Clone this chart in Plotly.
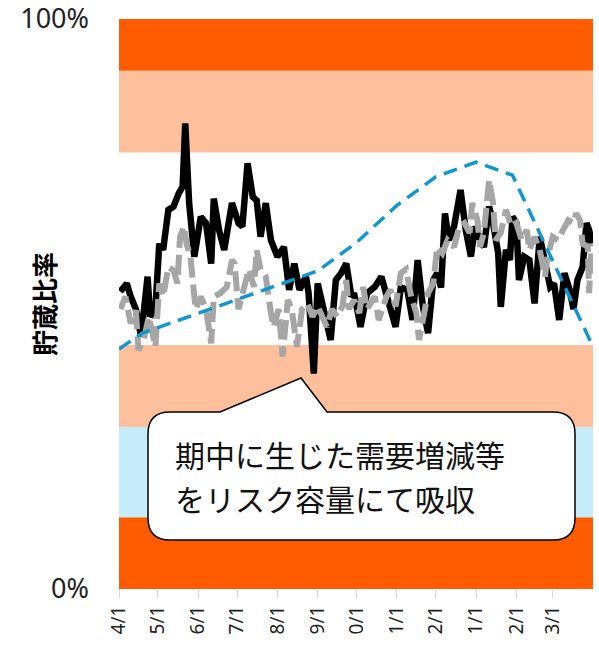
import pandas as pd
import plotly.graph_objects as go

# Fiscal year axis: April 1 to March 31
START = pd.Timestamp("2022-04-01")
END = pd.Timestamp("2023-04-01")

month_ticks = pd.date_range("2022-04-01", "2023-03-01", freq="MS")
month_labels = ["4/1", "5/1", "6/1", "7/1", "8/1", "9/1",
                "0/1", "1/1", "2/1", "1/1", "2/1", "3/1"]

# Storage-ratio zones (%), bottom to top
band_edges = [0, 12.6, 28.4, 42.8, 76.6, 90.9, 100]
band_colors = ["#FF5B00", "#C6ECFC", "#FDBF9C", None, "#FDBF9C", "#FF5B00"]

# Actual storage ratio (days since 4/1, %)
actual_days = [1, 6, 9, 13, 17, 22, 24, 28, 31, 34, 38, 42, 46, 49, 51, 54, 58,
               63, 67, 71, 73, 77, 81, 85, 87, 92, 95, 99, 103, 106, 109, 113,
               117, 122, 127, 131, 135, 139, 144, 146, 150, 153, 158, 163, 167,
               171, 175, 179, 181, 186, 191, 197, 202, 206, 209, 213, 217, 222,
               226, 230, 234, 238, 242, 245, 248, 251, 254, 258, 263, 267, 271,
               274, 278, 281, 285, 288, 292, 294, 298, 301, 303, 306, 308, 312,
               316, 320, 324, 328, 332, 335, 339, 343, 347, 350, 353, 357, 360,
               362, 364]
actual_vals = [52.2, 53.6, 51.3, 49.1, 44.3, 54.8, 47.8, 49.1, 60.6, 59.5, 66.5,
               67.1, 69.4, 70.6, 81.7, 67.7, 58.3, 65.3, 64.2, 57.1, 68.5, 63.0,
               59.5, 64.2, 67.7, 64.2, 63.6, 74.7, 68.8, 68.2, 61.8, 67.7, 61.2,
               58.3, 60.0, 52.5, 57.1, 52.5, 54.8, 51.9, 37.8, 53.6, 49.1, 43.7,
               54.2, 55.4, 57.1, 51.3, 51.9, 46.0, 51.9, 53.0, 54.8, 51.3, 49.5,
               46.0, 52.9, 52.5, 47.2, 57.7, 49.5, 44.9, 54.2, 55.4, 52.9, 65.9,
               61.2, 63.6, 70.0, 63.0, 58.3, 63.6, 61.2, 60.0, 67.1, 64.2, 58.9,
               49.5, 59.5, 57.7, 65.3, 64.2, 54.2, 58.3, 57.7, 50.1, 61.8, 57.7,
               53.0, 53.6, 47.2, 55.4, 52.5, 49.1, 54.2, 56.5, 64.2, 63.0, 60.6]

# Previous-year storage ratio (days since 4/1, %)
prev_days = [1, 5, 9, 13, 15, 19, 23, 28, 31, 34, 38, 42, 45, 47, 50, 52, 55,
             59, 63, 67, 71, 73, 78, 83, 87, 89, 92, 96, 100, 104, 106, 109, 113,
             117, 119, 123, 126, 130, 133, 137, 141, 145, 149, 153, 157, 160,
             164, 168, 172, 175, 177, 181, 185, 188, 191, 197, 200, 206, 209,
             213, 217, 221, 225, 229, 231, 234, 238, 242, 245, 249, 253, 258,
             262, 266, 270, 272, 276, 278, 281, 285, 288, 290, 294, 298, 302,
             306, 310, 314, 316, 320, 324, 328, 330, 334, 338, 342, 346, 350,
             352, 355, 357, 361, 362, 364]
prev_vals = [49.1, 51.3, 46.6, 48.9, 41.9, 43.7, 47.8, 42.5, 53.6, 51.3, 56.5,
             55.9, 53.6, 61.8, 63.6, 60.6, 58.3, 49.1, 51.3, 49.1, 43.1, 51.3,
             51.9, 53.0, 57.7, 57.1, 49.1, 52.5, 56.1, 53.0, 59.5, 56.1, 54.8,
             48.4, 46.0, 49.1, 40.8, 50.7, 49.1, 42.5, 49.1, 50.1, 47.8, 49.6,
             47.2, 46.0, 49.1, 47.8, 49.6, 54.2, 49.1, 50.7, 48.4, 53.0, 49.1,
             51.3, 47.2, 51.3, 52.5, 49.6, 55.4, 56.1, 51.3, 48.4, 43.7, 47.8,
             51.9, 53.6, 60.0, 58.9, 61.2, 60.0, 63.6, 64.2, 62.5, 67.7, 64.7,
             60.0, 62.5, 71.8, 67.7, 61.2, 62.5, 66.5, 63.6, 64.2, 61.2, 63.0,
             59.5, 61.8, 59.5, 54.8, 58.3, 61.8, 61.2, 63.0, 64.7, 64.2, 65.9,
             64.7, 60.6, 60.0, 51.9, 60.6]

# Planned storage ratio (days since 4/1, %)
plan_days = [0, 18, 153, 183, 214, 244, 275, 303, 365]
plan_vals = [42.1, 44.9, 55.8, 60.8, 67.3, 72.3, 74.9, 72.6, 42.5]

# Callout text, one entry per line
callout_lines = ["期中に生じた需要増減等", "をリスク容量にて吸収"]


def to_dates(days):
    return [START + pd.Timedelta(days=d) for d in days]


W, H = 599, 646
L, R, T, B = 119, 6, 19, 57
PW, PH = W - L - R, H - T - B


def px(x, y):
    """Pixel position -> paper coordinates string."""
    return f"{(x - L) / PW:.5f},{(H - B - y) / PH:.5f}"


fig = go.Figure()

fig.add_trace(go.Scatter(
    x=to_dates(actual_days), y=actual_vals, mode="lines",
    line=dict(color="#000000", width=6.5), hoverinfo="skip", showlegend=False))
fig.add_trace(go.Scatter(
    x=to_dates(prev_days), y=prev_vals, mode="lines",
    line=dict(color="#A6A6A6", width=6, dash="20px,7px"),
    hoverinfo="skip", showlegend=False))
fig.add_trace(go.Scatter(
    x=to_dates(plan_days), y=plan_vals, mode="lines",
    line=dict(color="#1197CF", width=3.5, dash="14px,8px"),
    hoverinfo="skip", showlegend=False))

shapes = []
for lo, hi, col in zip(band_edges[:-1], band_edges[1:], band_colors):
    if col is None:
        continue
    shapes.append(dict(type="rect", xref="paper", yref="y", x0=0, x1=1,
                       y0=lo, y1=hi, fillcolor=col, line_width=0, layer="below"))

# Speech-bubble callout
bx0, bx1, by0, by1, r = 148, 575, 412, 540, 22
bubble = (
    f"M{px(bx0 + r, by0)} L{px(220, by0)} L{px(301, 378)} L{px(327, by0)} "
    f"L{px(bx1 - r, by0)} Q{px(bx1, by0)} {px(bx1, by0 + r)} "
    f"L{px(bx1, by1 - r)} Q{px(bx1, by1)} {px(bx1 - r, by1)} "
    f"L{px(bx0 + r, by1)} Q{px(bx0, by1)} {px(bx0, by1 - r)} "
    f"L{px(bx0, by0 + r)} Q{px(bx0, by0)} {px(bx0 + r, by0)} Z"
)
shapes.append(dict(type="path", xref="paper", yref="paper", path=bubble,
                   fillcolor="#FFFFFF", line=dict(color="#000000", width=1.5),
                   layer="above"))

cjk = "Noto Sans CJK JP"
annotations = []
for line_text, cy in zip(callout_lines, [454, 498]):
    annotations.append(dict(
        xref="paper", yref="paper", x=(173 - L) / PW, y=(H - B - cy) / PH,
        xanchor="left", yanchor="middle", showarrow=False, text=line_text,
        font=dict(family=cjk, size=30, color="#111")))
annotations.append(dict(
    xref="paper", yref="paper", x=(43 - L) / PW, y=0.5,
    xanchor="center", yanchor="middle", showarrow=False, textangle=-90,
    text="<b>貯蔵比率</b>", font=dict(family=cjk, size=26, color="#000")))

fig.update_layout(
    width=W, height=H, margin=dict(l=L, r=R, t=T, b=B, autoexpand=False),
    paper_bgcolor="#FFFFFF", plot_bgcolor="#FFFFFF",
    shapes=shapes, annotations=annotations,
    xaxis=dict(type="date", range=[START, END], tickvals=list(month_ticks),
               ticktext=month_labels, tickangle=-90, ticks="outside",
               ticklen=8, tickcolor="#D9D9D9", showgrid=False, zeroline=False,
               showline=False, automargin=False,
               tickfont=dict(family="Noto Sans", size=19, color="#222")),
    yaxis=dict(range=[0, 100], tickvals=[0, 100], ticktext=["0%", "100%"],
               showgrid=False, zeroline=False, showline=False, ticks="",
               ticklabelstandoff=29, ticklabeloverflow="allow", automargin=False,
               tickfont=dict(family="Noto Sans", size=27, color="#222")),
)

fig.write_html("out.html")
